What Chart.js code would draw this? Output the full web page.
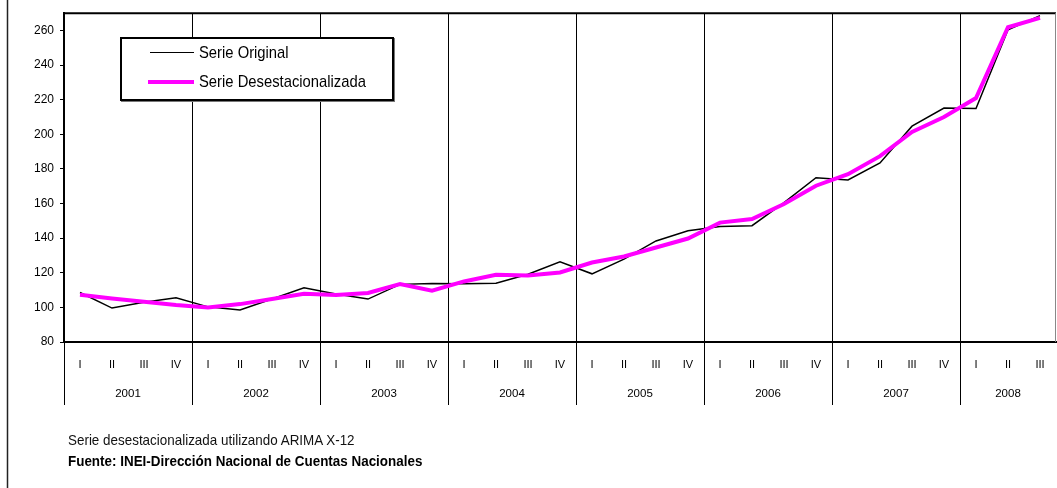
<!DOCTYPE html>
<html>
<head>
<meta charset="utf-8">
<script src="https://cdn.jsdelivr.net/npm/chart.js@4/dist/chart.umd.min.js"></script>
<style>
    body { margin: 0; background: #fff; font-family: "Liberation Sans", Arial, sans-serif; }
    .wrap { position: relative; width: 1057px; height: 488px; }
    .legend {
        position: absolute; left: 120px; top: 37px; width: 270px; height: 60px;
        border: 2px solid #000; background: #fff; box-shadow: 1px 1px 0 #777;
    }
    .swatch { position: absolute; left: 28px; width: 44px; }
    .ltext {
        position: absolute; left: 77px; font-size: 17px; line-height: 20px; color: #000;
        white-space: nowrap; transform: scaleX(0.87); transform-origin: left center;
    }
    .note {
        position: absolute; left: 68px; font-size: 15px; line-height: 18px; color: #111;
        white-space: nowrap; transform: scaleX(0.895); transform-origin: left center;
    }
</style>
</head>
<body>
<div class="wrap">
    <canvas id="myChart" width="1057" height="488"></canvas>
    <div class="legend">
        <div class="swatch" style="top:13px; border-top:1.5px solid #000"></div>
        <div class="ltext" style="top:4px">Serie Original</div>
        <div class="swatch" style="top:41px; left:26px; width:46px; border-top:4px solid #ff00ff"></div>
        <div class="ltext" style="top:33px">Serie Desestacionalizada</div>
    </div>
    <div class="note" style="top:431px">Serie desestacionalizada utilizando ARIMA X-12</div>
    <div class="note" style="top:452px; font-weight:bold; color:#000">Fuente: INEI-Dirección Nacional de Cuentas Nacionales</div>
</div>
<script>
// quarters 2001 I .. 2008 III
const quarterLabels = ['I', 'II', 'III', 'IV', 'I', 'II', 'III', 'IV', 'I', 'II', 'III', 'IV', 'I', 'II', 'III', 'IV',
    'I', 'II', 'III', 'IV', 'I', 'II', 'III', 'IV', 'I', 'II', 'III', 'IV', 'I', 'II', 'III'];
const years = ['2001', '2002', '2003', '2004', '2005', '2006', '2007', '2008'];

const serieOriginal = [108.6, 99.6, 103.0, 105.6, 100.3, 98.5, 104.8, 111.3,
    107.8, 104.8, 113.3, 113.8, 113.6, 114.0, 119.2, 126.3,
    119.4, 127.9, 138.4, 144.3, 146.7, 147.2, 160.5, 174.9,
    173.6, 183.5, 204.7, 215.2, 214.9, 260.4, 268.6];
const serieDesestacionalizada = [107.3, 105.2, 103.3, 101.4, 100.0, 101.9, 104.8, 107.9,
    107.1, 108.3, 113.5, 109.6, 115.0, 118.8, 118.4, 120.2,
    125.9, 129.4, 134.6, 139.8, 149.0, 151.1, 159.7, 170.3,
    177.0, 187.4, 201.4, 210.0, 221.0, 261.9, 267.3];

Chart.defaults.font.family = '"Liberation Sans", Arial, sans-serif';
Chart.defaults.color = '#000';

// year labels under the quarters, plus frame lines
const yearAxis = {
    id: 'yearAxis',
    afterDraw(chart) {
        const ctx = chart.ctx;
        const x = chart.scales.x;
        const area = chart.chartArea;
        ctx.save();
        ctx.font = '11.5px "Liberation Sans", Arial, sans-serif';
        ctx.fillStyle = '#000';
        ctx.textAlign = 'center';
        ctx.textBaseline = 'middle';
        for (let k = 0; k < years.length; k++) {
            const first = 4 * k;
            const last = Math.min(4 * k + 3, quarterLabels.length - 1);
            const cx = (x.getPixelForValue(first) + x.getPixelForValue(last)) / 2;
            ctx.fillText(years[k], cx, 394);
        }
        // top border
        ctx.strokeStyle = '#000';
        ctx.lineWidth = 2;
        ctx.beginPath();
        ctx.moveTo(area.left, area.top);
        ctx.lineTo(area.right, area.top);
        ctx.stroke();
        // right border
        ctx.strokeStyle = '#888';
        ctx.lineWidth = 1;
        ctx.beginPath();
        ctx.moveTo(area.right - 0.5, area.top);
        ctx.lineTo(area.right - 0.5, area.bottom);
        ctx.stroke();
        // outer frame on the left
        ctx.strokeStyle = '#222';
        ctx.lineWidth = 1.5;
        ctx.beginPath();
        ctx.moveTo(7.5, 0);
        ctx.lineTo(7.5, 488);
        ctx.stroke();
        ctx.restore();
    }
};

new Chart(document.getElementById('myChart').getContext('2d'), {
    type: 'line',
    data: {
        labels: quarterLabels,
        datasets: [
            {
                label: 'Serie Original',
                data: serieOriginal,
                borderColor: '#000',
                borderWidth: 1.5,
                pointRadius: 0,
                tension: 0,
                order: 1
            },
            {
                label: 'Serie Desestacionalizada',
                data: serieDesestacionalizada,
                borderColor: '#ff00ff',
                borderWidth: 4,
                pointRadius: 0,
                tension: 0,
                order: 0
            }
        ]
    },
    options: {
        responsive: false,
        animation: false,
        layout: { padding: { left: 0, top: 13, right: 1, bottom: 0 } },
        plugins: { legend: { display: false }, tooltip: { enabled: false } },
        scales: {
            x: {
                offset: true,
                afterFit: (scale) => { scale.height = 146; },
                grid: {
                    offset: true,
                    drawOnChartArea: true,
                    drawTicks: true,
                    tickLength: 63,
                    lineWidth: 1,
                    color: (c) => (c.index % 4 === 0 ? '#000' : 'rgba(0,0,0,0)')
                },
                border: { color: '#000', width: 2 },
                ticks: { autoSkip: false, maxRotation: 0, padding: -47, font: { size: 11 } }
            },
            y: {
                min: 80,
                max: 270,
                afterFit: (scale) => { scale.width = 64; },
                grid: { drawOnChartArea: false, drawTicks: true, tickLength: 4, color: '#000' },
                border: { color: '#000', width: 2 },
                ticks: { stepSize: 20, includeBounds: false, padding: 6, font: { size: 12 } }
            }
        }
    },
    plugins: [yearAxis]
});
</script>
</body>
</html>
